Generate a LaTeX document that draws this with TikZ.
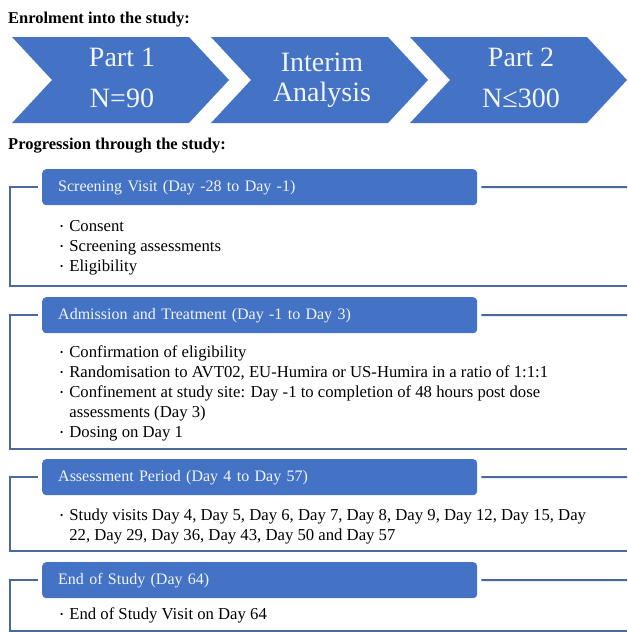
\documentclass[tikz,border=0pt]{standalone}
\usepackage{fontspec}
\setmainfont{Liberation Serif}
\definecolor{chev}{HTML}{4472C4}
\definecolor{frm}{HTML}{4A6A9E}
\definecolor{lighttxt}{HTML}{F2F5FB}
\newcommand\bul{\raisebox{1.5pt}{\fontsize{9}{9}\selectfont\textbullet}}
\begin{document}
\begin{tikzpicture}[x=1pt,y=-1pt,
  chevtxt/.style={text=lighttxt, font=\fontsize{28}{30}\selectfont, align=center, inner sep=0},
  hdr/.style={fill=chev, rounded corners=4pt, text width=403pt, inner xsep=16pt, inner ysep=0pt,
              minimum height=36pt, anchor=north west, text=lighttxt, align=left,
              font=\fontsize{16}{20}\selectfont},
  frame/.style={draw=frm, line width=2pt},
  title/.style={font=\fontsize{16.5}{20}\selectfont\bfseries, anchor=base west, inner sep=0},
  body/.style={font=\fontsize{16.7}{20}\selectfont, anchor=north west, inner sep=0, align=left}]
\useasboundingbox (0,0) rectangle (627,632);

% titles
\node[title] (t1) at (8,23.5) {Enrolment into the study:};
\node[title] (t2) at (8,149) {Progression through the study:};

% chevrons
\foreach \L in {12,211,410}{
  \fill[chev] (\L,37) -- (\L+177,37) -- (\L+217,80) -- (\L+177,123) -- (\L,123) -- (\L+40,80) -- cycle;
}
\node[chevtxt] (c1) at (122,78) {Part 1\\[11pt]N=90};
\node[chevtxt] (c2) at (322,80) {Interim\\Analysis};
\node[chevtxt] (c3) at (521,78) {Part 2\\[11pt]N≤300};

% section 1
\node[hdr] (h1) at (42,169) {Screening Visit (Day -28 to Day -1)};
\draw[frame] ([xshift=-4pt]h1.west) -| (10,286) -- (627,286);
\draw[frame] ([xshift=4pt]h1.east) -- (627,187);
\node[body] (b1) at (60,217) {\begin{tabular}{@{}l@{\hspace{6pt}}l@{}}
\bul & Consent\\
\bul & Screening assessments\\
\bul & Eligibility
\end{tabular}};

% section 2
\node[hdr] (h2) at (42,297) {Admission and Treatment (Day -1 to Day 3)};
\draw[frame] ([xshift=-4pt]h2.west) -| (10,449) -- (627,449);
\draw[frame] ([xshift=4pt]h2.east) -- (627,315);
\node[body] (b2) at (60,343) {\begin{tabular}{@{}l@{\hspace{6pt}}l@{}}
\bul & Confirmation of eligibility\\
\bul & Randomisation to AVT02, EU-Humira or US-Humira in a ratio of 1:1:1\\
\bul & Confinement at study site: Day -1 to completion of 48 hours post dose\\
 & assessments (Day 3)\\
\bul & Dosing on Day 1
\end{tabular}};

% section 3
\node[hdr] (h3) at (42,459) {Assessment Period (Day 4 to Day 57)};
\draw[frame] ([xshift=-4pt]h3.west) -| (10,551) -- (627,551);
\draw[frame] ([xshift=4pt]h3.east) -- (627,477);
\node[body] (b3) at (60,506) {\begin{tabular}{@{}l@{\hspace{6pt}}l@{}}
\bul & Study visits Day 4, Day 5, Day 6, Day 7, Day 8, Day 9, Day 12, Day 15, Day\\
 & 22, Day 29, Day 36, Day 43, Day 50 and Day 57
\end{tabular}};

% section 4
\node[hdr] (h4) at (42,562) {End of Study (Day 64)};
\draw[frame] ([xshift=-4pt]h4.west) -| (10,631) -- (627,631);
\draw[frame] ([xshift=4pt]h4.east) -- (627,580);
\node[body] (b4) at (60,605) {\begin{tabular}{@{}l@{\hspace{6pt}}l@{}}
\bul & End of Study Visit on Day 64
\end{tabular}};
\end{tikzpicture}
\end{document}
